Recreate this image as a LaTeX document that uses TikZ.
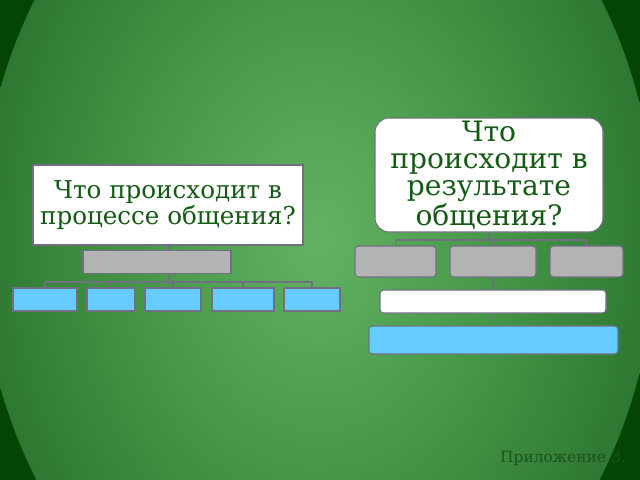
\documentclass[tikz,border=0pt]{standalone}
\usepackage{fontspec}
\setmainfont{DejaVu Serif}
\usepackage{tikz}

\definecolor{fondA}{HTML}{62B262}
\definecolor{fondB}{HTML}{489A4A}
\definecolor{fondC}{HTML}{2E7832}
\definecolor{fondE}{HTML}{1B5A1E}
\definecolor{fondD}{HTML}{034503}
\definecolor{qtext}{HTML}{145A14}
\definecolor{appcol}{HTML}{1C541C}
\definecolor{trait}{HTML}{707082}
\definecolor{gris}{HTML}{B3B3B3}
\definecolor{bleu}{HTML}{66CCFF}
\newcommand{\txtcol}{qtext}
\pgfdeclareradialshading{fond}{\pgfpoint{0bp}{0bp}}{color(0bp)=(fondA); color(12bp)=(fondB); color(25bp)=(fondC); color(50bp)=(fondE)}

\begin{document}
\begin{tikzpicture}[x=0.02cm, y=-0.02cm,
    boite/.style={draw=trait, line width=0.6pt, inner sep=0pt},
    question/.style={boite, fill=white, text=\txtcol, align=center},
    grise/.style={boite, fill=gris},
    bleue/.style={boite, fill=bleu},
    blanche/.style={boite, fill=white},
    lien/.style={draw=trait, line width=0.6pt}]

    \useasboundingbox (0, 0) rectangle (640, 480);
    \clip (0, 0) rectangle (640, 480);

    % fond
    \fill[fondD] (0, 0) rectangle (640, 480);
    \shade[shading=fond] (318, 238) ellipse (6.76cm and 8.74cm);

    % gauche
    \node[question, minimum width=270*0.02cm, minimum height=80*0.02cm,
          font=\fontsize{14}{14.7}\selectfont] (qL) at (168, 205)
        {Что происходит в\\процессе общения?};
    \node[grise, minimum width=148*0.02cm, minimum height=23*0.02cm] (gL) at (157, 262) {};
    \node[bleue, minimum width=64*0.02cm, minimum height=23*0.02cm] (b1) at (45, 299.5) {};
    \node[bleue, minimum width=48*0.02cm, minimum height=23*0.02cm] (b2) at (111, 299.5) {};
    \node[bleue, minimum width=56*0.02cm, minimum height=23*0.02cm] (b3) at (173, 299.5) {};
    \node[bleue, minimum width=62*0.02cm, minimum height=23*0.02cm] (b4) at (243, 299.5) {};
    \node[bleue, minimum width=56*0.02cm, minimum height=23*0.02cm] (b5) at (312, 299.5) {};

    \coordinate (hubL) at (169, 282);
    \draw[lien] (hubL |- qL.south) -- (hubL |- gL.north);
    \draw[lien] (hubL |- gL.south) -- (hubL);
    \draw[lien] (b1.north |- hubL) -- (b5.north |- hubL);
    \foreach \i in {1,...,5}
        \draw[lien] (b\i.north |- hubL) -- (b\i.north);

    % droite
    \node[question, rounded corners=8pt, minimum width=228*0.02cm, minimum height=114*0.02cm,
          font=\fontsize{16}{15.3}\selectfont] (qR) at (489, 175)
        {Что\\происходит в\\результате\\общения?};
    \node[grise, rounded corners=2pt, minimum width=81*0.02cm, minimum height=31*0.02cm] (g1) at (395.5, 261.5) {};
    \node[grise, rounded corners=2pt, minimum width=86*0.02cm, minimum height=31*0.02cm] (g2) at (493, 261.5) {};
    \node[grise, rounded corners=2pt, minimum width=73*0.02cm, minimum height=31*0.02cm] (g3) at (586.5, 261.5) {};
    \node[blanche, rounded corners=2pt, minimum width=226*0.02cm, minimum height=23*0.02cm] (w1) at (493, 301.5) {};
    \node[bleue, rounded corners=2pt, minimum width=249*0.02cm, minimum height=28*0.02cm] (c1) at (493.5, 340) {};

    \coordinate (hubR) at (489, 240);
    \draw[lien] (hubR |- qR.south) -- (hubR);
    \draw[lien] (g1.north |- hubR) -- (g3.north |- hubR);
    \foreach \i in {1,2,3}
        \draw[lien] (g\i.north |- hubR) -- (g\i.north);
    \draw[lien] (g2.south) -- (w1.north);
    \draw[lien] (w1.south) -- (c1.north);

    \node[text=appcol, font=\fontsize{8.8}{10}\selectfont, anchor=base east] (app) at (632, 462) {Приложение 3.};

\end{tikzpicture}
\end{document}
